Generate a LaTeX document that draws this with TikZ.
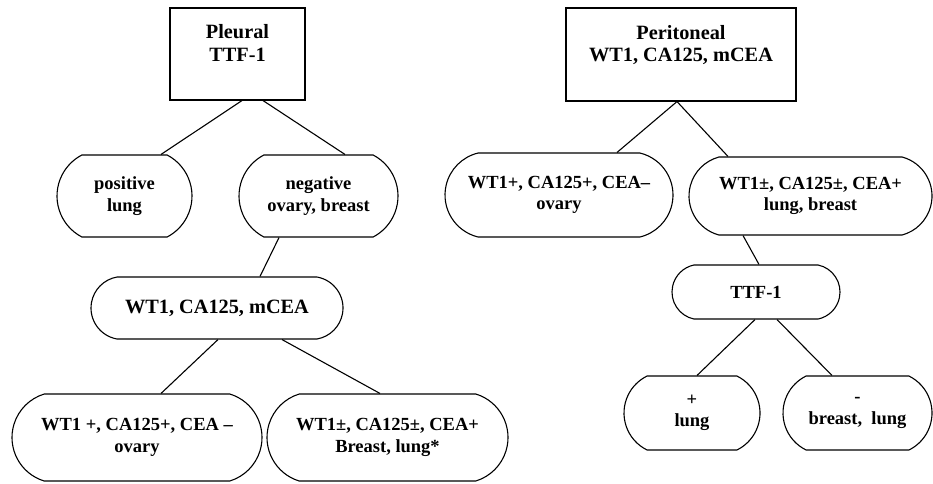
\documentclass[tikz,border=0pt]{standalone}
\usepackage{fontspec}
\setmainfont{Liberation Serif}
\usetikzlibrary{shapes.misc}
\begin{document}
\begin{tikzpicture}[x=1pt,y=-1pt,
  every node/.style={font=\bfseries, align=center, inner sep=0pt},
  titlebox/.style={draw, line width=1.1pt, rectangle, font=\bfseries\fontsize{20.3}{22.5}\selectfont},
  pill/.style={draw, line width=1.1pt, rounded rectangle, font=\bfseries\fontsize{18.5}{21.5}\selectfont},
  conn/.style={line width=1.1pt}]
\useasboundingbox (0,0) rectangle (933,483);
% left tree
\node[titlebox, minimum width=135pt, minimum height=92pt] (pl) at (237.5,54) {Pleural\\TTF-1\\~};
\node[pill, minimum width=135pt, minimum height=82pt, rounded rectangle arc length=125] (pos) at (124.5,196) {positive\\lung};
\node[pill, minimum width=159pt, minimum height=82pt, rounded rectangle arc length=125] (neg) at (318.5,196) {negative\\ovary, breast};
\node[pill, minimum width=252pt, minimum height=62pt, rounded rectangle arc length=160, font=\bfseries\fontsize{20.3}{22.5}\selectfont] (mid) at (217,308) {WT1, CA125, mCEA};
\node[pill, minimum width=250pt, minimum height=87pt, rounded rectangle arc length=146] (bl) at (137,437.5) {WT1 +, CA125+, CEA –\\ovary};
\node[pill, minimum width=241pt, minimum height=87pt, rounded rectangle arc length=146] (bm) at (387.5,437.5) {WT1±, CA125±, CEA+\\Breast, lung*};
% right tree
\node[titlebox, minimum width=230pt, minimum height=93pt] (pe) at (681,54.5) {Peritoneal\\WT1, CA125, mCEA\\~};
\node[pill, minimum width=228pt, minimum height=84pt, rounded rectangle arc length=153] (wl) at (559,195) {WT1+, CA125+, CEA–\\ovary};
\node[pill, minimum width=243pt, minimum height=78pt, rounded rectangle arc length=150] (wr) at (810.5,196) {WT1±, CA125±, CEA+\\lung, breast};
\node[pill, minimum width=168pt, minimum height=54pt, rounded rectangle arc length=156] (ttf) at (756,292) {TTF-1};
\node[pill, minimum width=136pt, minimum height=74pt, rounded rectangle arc length=128] (pls) at (692,413) {+\\lung};
\node[pill, minimum width=149pt, minimum height=74pt, rounded rectangle arc length=128] (brs) at (857.5,413) {-\\breast,~ lung};
% connectors
\draw[conn] ([xshift=4.5pt]pl.south) -- ([xshift=36.5pt]pos.north);
\draw[conn] ([xshift=25.5pt]pl.south) -- ([xshift=26.5pt]neg.north);
\draw[conn] ([xshift=-39.5pt]neg.south) -- ([xshift=43pt]mid.north);
\draw[conn] ([xshift=1pt]mid.south) -- ([xshift=24pt]bl.north);
\draw[conn] ([xshift=65pt]mid.south) -- ([xshift=-7.5pt]bm.north);
\draw[conn] ([xshift=-4pt]pe.south) -- ([xshift=58pt]wl.north);
\draw[conn] ([xshift=-4pt]pe.south) -- ([xshift=-82.5pt]wr.north);
\draw[conn] ([xshift=-67.5pt]wr.south) -- ([xshift=3pt]ttf.north);
\draw[conn] ([xshift=-1pt]ttf.south) -- ([xshift=5pt]pls.north);
\draw[conn] ([xshift=21pt]ttf.south) -- ([xshift=-25.5pt]brs.north);
\end{tikzpicture}
\end{document}
